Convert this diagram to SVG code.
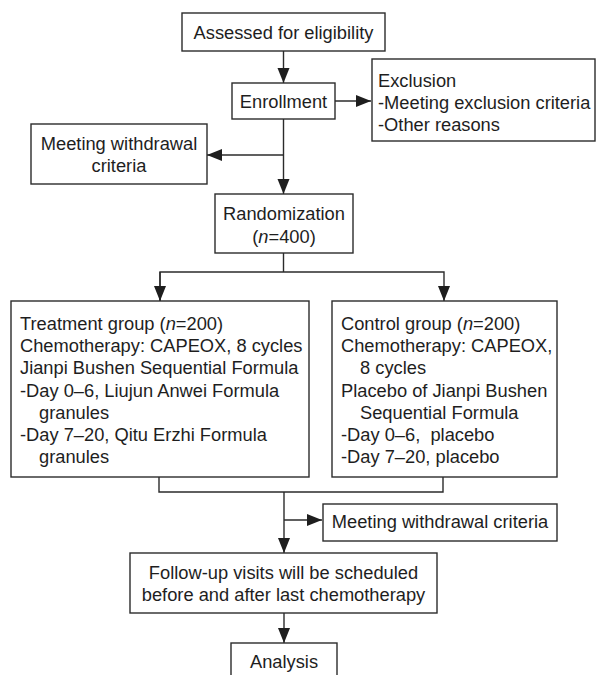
<svg xmlns="http://www.w3.org/2000/svg" width="598" height="675" viewBox="0 0 598 675">
<style>
.box{fill:#fff;stroke:#2b2b2b;stroke-width:1.4}
.ln{fill:none;stroke:#2b2b2b;stroke-width:1.4}
text{font-family:"Liberation Sans",Arial,sans-serif;font-size:18.3px;fill:#1e1e1e}
.c{text-anchor:middle}
.i{font-style:italic}
.pre{white-space:pre}
</style>
<defs>
<marker id="ah" markerUnits="userSpaceOnUse" markerWidth="16" markerHeight="14" refX="15" refY="6" orient="auto">
<path d="M0,0 L15,6 L0,12 z" fill="#1e1e1e"/>
</marker>
</defs>
<rect width="598" height="675" fill="#fff"/>
<g id="connectors">
<line class="ln" x1="283.5" y1="51" x2="283.5" y2="83" marker-end="url(#ah)"/>
<line class="ln" x1="335" y1="101" x2="371" y2="101" marker-end="url(#ah)"/>
<line class="ln" x1="283.5" y1="119" x2="283.5" y2="194" marker-end="url(#ah)"/>
<line class="ln" x1="283.5" y1="155" x2="207" y2="155" marker-end="url(#ah)"/>
<polyline class="ln" points="283.5,253 283.5,272"/>
<polyline class="ln" points="160,301 160,272 444,272 444,301" marker-end="url(#ah)"/>
<line class="ln" x1="160" y1="272" x2="160" y2="301" marker-end="url(#ah)"/>
<polyline class="ln" points="159,477 159,492 443,492 443,477"/>
<line class="ln" x1="284" y1="492" x2="284" y2="553" marker-end="url(#ah)"/>
<line class="ln" x1="284" y1="520" x2="322" y2="520" marker-end="url(#ah)"/>
<line class="ln" x1="284" y1="613" x2="284" y2="643" marker-end="url(#ah)"/>
</g>
<g id="assessed">
<rect class="box" x="182" y="13" width="203" height="38"/>
<text class="c" x="283.5" y="39">Assessed for eligibility</text>
</g>
<g id="enrollment">
<rect class="box" x="232" y="83" width="103" height="36"/>
<text class="c" x="283.5" y="108">Enrollment</text>
</g>
<g id="exclusion">
<rect class="box" x="372" y="59" width="223" height="82"/>
<text x="378" y="87">Exclusion</text>
<text x="378" y="109">-Meeting exclusion criteria</text>
<text x="378" y="131">-Other reasons</text>
</g>
<g id="withdrawal1">
<rect class="box" x="31" y="124" width="176" height="60"/>
<text class="c" x="119" y="150">Meeting withdrawal</text>
<text class="c" x="119" y="172">criteria</text>
</g>
<g id="randomization">
<rect class="box" x="215" y="194" width="138" height="59"/>
<text class="c" x="284" y="220">Randomization</text>
<text class="c" x="284" y="243">(<tspan class="i">n</tspan>=400)</text>
</g>
<g id="treatment">
<rect class="box" x="11" y="301" width="298" height="176"/>
<text x="20" y="330">Treatment group (<tspan class="i">n</tspan>=200)</text>
<text x="20" y="352">Chemotherapy: CAPEOX, 8 cycles</text>
<text x="20" y="374">Jianpi Bushen Sequential Formula</text>
<text x="20" y="397">-Day 0–6, Liujun Anwei Formula</text>
<text x="39" y="419">granules</text>
<text x="20" y="441">-Day 7–20, Qitu Erzhi Formula</text>
<text x="39" y="463">granules</text>
</g>
<g id="control">
<rect class="box" x="332" y="301" width="225" height="176"/>
<text x="341" y="330">Control group (<tspan class="i">n</tspan>=200)</text>
<text x="341" y="352">Chemotherapy: CAPEOX,</text>
<text x="360" y="374">8 cycles</text>
<text x="341" y="397">Placebo of Jianpi Bushen</text>
<text x="360" y="419">Sequential Formula</text>
<text class="pre" x="341" y="441">-Day 0–6,  placebo</text>
<text x="341" y="463">-Day 7–20, placebo</text>
</g>
<g id="withdrawal2">
<rect class="box" x="323" y="504" width="234" height="37"/>
<text class="c" x="440" y="528">Meeting withdrawal criteria</text>
</g>
<g id="followup">
<rect class="box" x="130" y="553" width="307" height="60"/>
<text class="c" x="283.5" y="579">Follow-up visits will be scheduled</text>
<text class="c" x="283.5" y="601">before and after last chemotherapy</text>
</g>
<g id="analysis">
<rect class="box" x="231" y="643" width="106" height="50"/>
<text class="c" x="284" y="668">Analysis</text>
</g>
</svg>
